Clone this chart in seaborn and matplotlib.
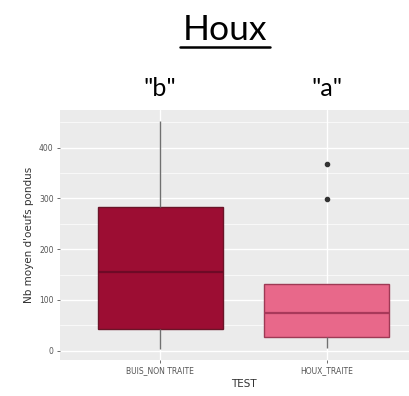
import matplotlib
matplotlib.use("Agg")
import matplotlib.pyplot as plt
from matplotlib.lines import Line2D
import seaborn as sns
import pandas as pd
import numpy as np

# Data
categories = ["BUIS_NON TRAITE", "HOUX_TRAITE"]
buis_values = [4, 30, 42, 90, 156, 200, 284, 350, 452]
houx_values = [5, 15, 26, 50, 74, 100, 132, 298, 368]
letters = ['"b"', '"a"']
yticks = [0, 100, 200, 300, 400]

fills = ["#9C0D33", "#E8688A"]
edges = ["#6A1428", "#9E3A55"]
medians = ["#6E0A26", "#A8395A"]

df = pd.DataFrame({
    "TEST": [categories[0]] * len(buis_values) + [categories[1]] * len(houx_values),
    "val": buis_values + houx_values,
})

sns.set_theme(style="darkgrid")
plt.rcParams["font.family"] = ["DejaVu Sans"]

W, H = 410, 396
fig = plt.figure(figsize=(W / 100, H / 100), dpi=100)
ax = fig.add_axes([60 / W, 36 / H, 367 / W, 250 / H])
ax.set_facecolor("#EBEBEB")

sns.boxplot(data=df, x="TEST", y="val", hue="TEST", order=categories,
            hue_order=categories, palette=fills, width=0.75, showcaps=False,
            dodge=False, legend=False, linewidth=1.0,
            flierprops=dict(marker="o", markersize=3.0, markerfacecolor="#333333",
                            markeredgecolor="#333333"),
            whiskerprops=dict(color="#707070"), ax=ax)

for i, cont in enumerate(ax.containers):
    for b in cont.boxes:
        b.set_facecolor(fills[i])
        b.set_edgecolor(edges[i])
        b.set_linewidth(1.0)
    for m in cont.medians:
        m.set_color(medians[i])
        m.set_linewidth(1.6)
    for w in cont.whiskers:
        w.set_color("#707070")
        w.set_linewidth(1.0)

ax.set_xlim(-0.6, 1.6)
ax.set_ylim(-18.4, 474.4)
ax.set_yticks(yticks)
ax.set_yticks([50, 150, 250, 350, 450], minor=True)
ax.grid(True, which="major", color="white", linewidth=1.0)
ax.grid(True, which="minor", axis="y", color="white", linewidth=0.5)
ax.set_axisbelow(True)
for s in ax.spines.values():
    s.set_visible(False)

ax.tick_params(axis="both", which="major", length=2.5, width=0.6, color="#555555",
               labelsize=5.5, labelcolor="#555555", pad=2, bottom=True, left=True)
ax.tick_params(axis="both", which="minor", length=0)
ax.set_xlabel("TEST", fontsize=7.5, color="#333333", labelpad=3)
ax.set_ylabel("Nb moyen d'oeufs pondus", fontsize=7.5, color="#333333", labelpad=4)

# Title with underline
fig.text(225 / W, 1 - 30 / H, "Houx", ha="center", va="center", fontsize=25.5,
         family="Lato", color="black")
fig.add_artist(Line2D([180 / W, 270 / W], [1 - 47 / H, 1 - 47 / H], color="black",
                      linewidth=1.8, transform=fig.transFigure))

for i, lab in enumerate(letters):
    ax.text(i, 1 + (110 - 88) / 250, lab, transform=ax.get_xaxis_transform(),
            ha="center", va="center", fontsize=18, family="Lato", color="black")

fig.savefig("out.png", dpi=100)
